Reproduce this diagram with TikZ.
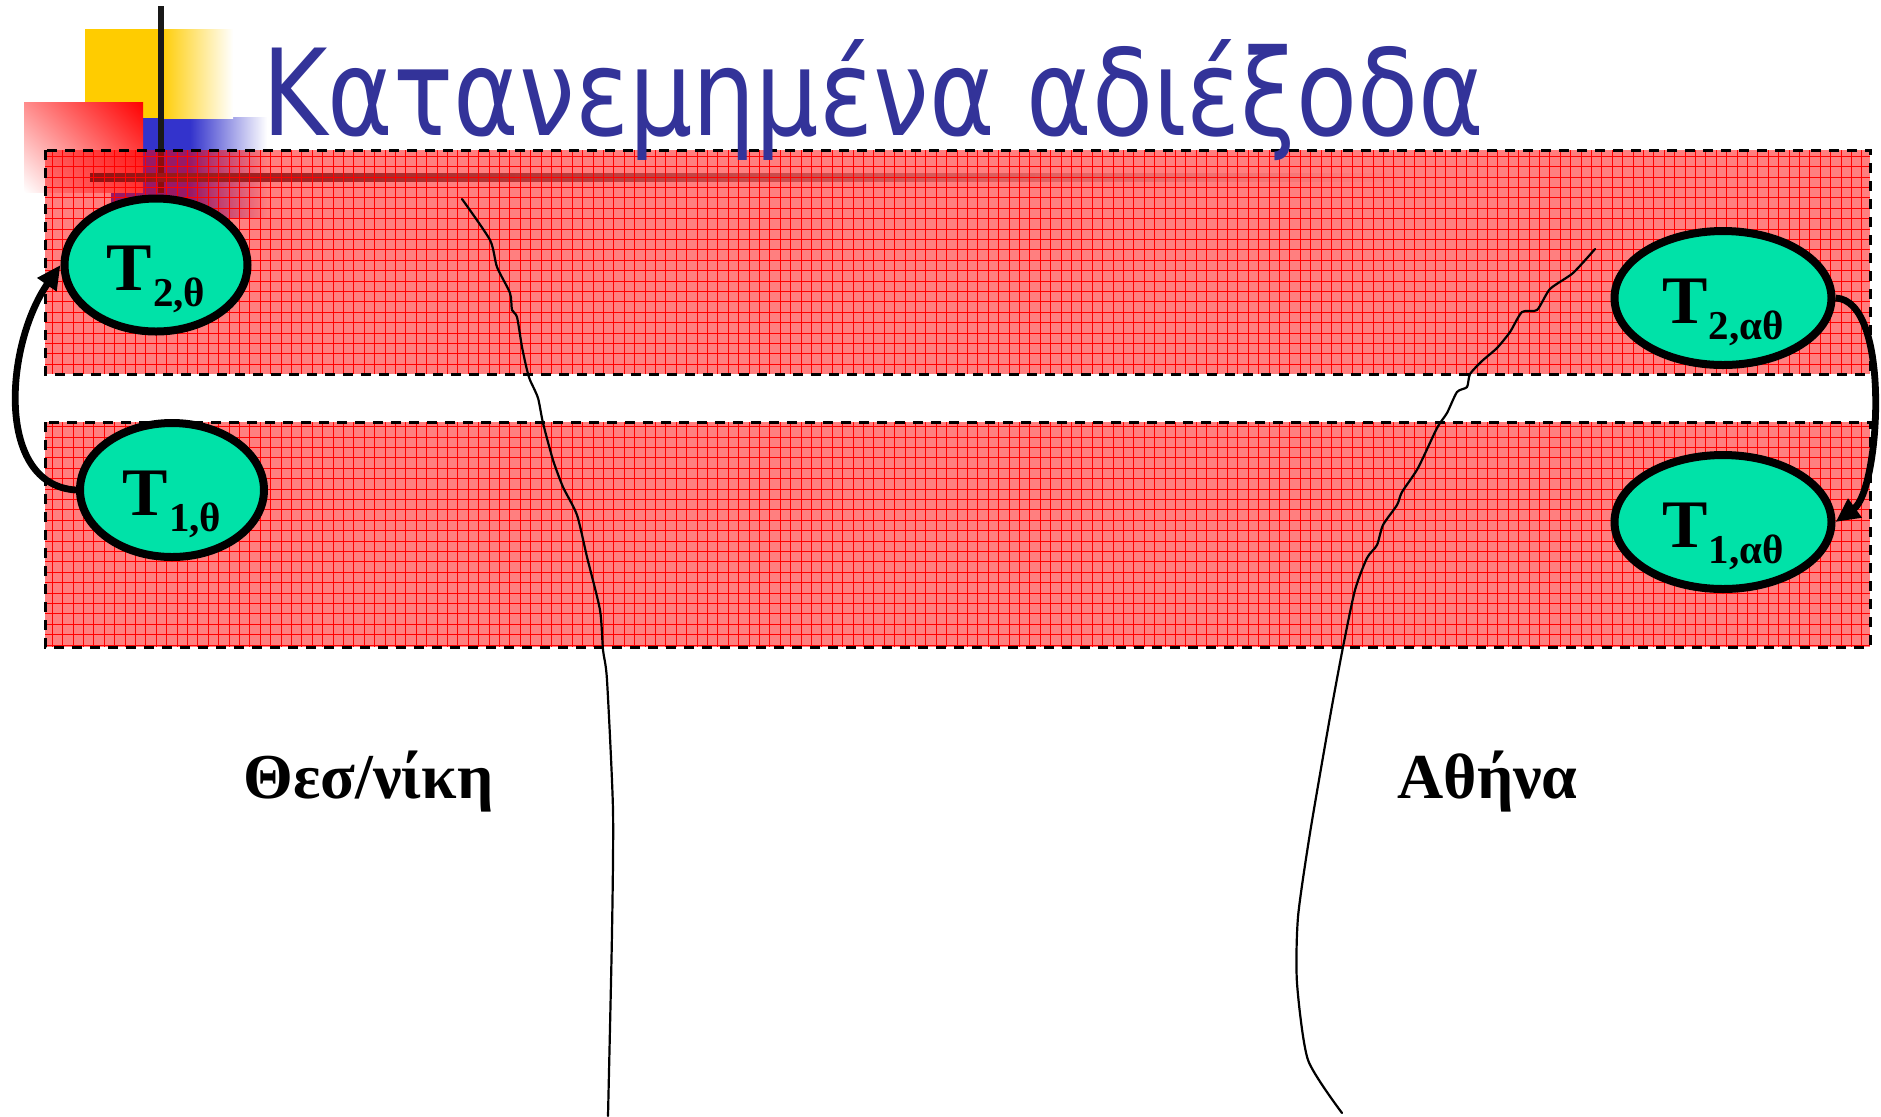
\documentclass[tikz,border=0pt]{standalone}
\usepackage{fontspec}
\usepackage{graphicx}
\usetikzlibrary{shapes.geometric,arrows.meta,shadings}
\newfontfamily\titlefont{DejaVu Sans}
\newfontfamily\timesfont{Liberation Serif}
\definecolor{titleblue}{RGB}{51,51,153}
\definecolor{nodegreen}{RGB}{0,226,168}
\definecolor{decoyellow}{RGB}{255,204,0}
\definecolor{decoblue}{RGB}{51,51,204}
\newcommand{\Tlabel}[1]{{\timesfont\bfseries\fontsize{34pt}{38pt}\selectfont T\kern0.5pt\raisebox{-8pt}{\fontsize{20.5pt}{23pt}\selectfont #1}}}

\begin{document}
\begin{tikzpicture}[x=0.5pt,y=0.5pt,
  band/.style={fill=red, fill opacity=0.5, draw=none},
  bandborder/.style={draw=black, line width=1.5pt, dash pattern=on 5pt off 4pt},
  gridline/.style={red, line width=0.28pt},
  proc/.style={ellipse, draw=black, line width=4pt, fill=nodegreen, inner sep=0pt,
    minimum width=91.5pt, minimum height=66.5pt, text height=25pt, text depth=0pt},
  procwide/.style={proc, minimum width=108.5pt, minimum height=67pt},
  transfer/.style={line width=3.4pt, -{Triangle[length=12pt,width=11pt]}},
  frontier/.style={line width=1.1pt, line join=round, line cap=round},
  city/.style={font=\timesfont\bfseries\fontsize{32pt}{38pt}\selectfont, anchor=base west, inner sep=0pt}
]
\useasboundingbox (0,0) rectangle (1881,-1116);
\fill[white] (0,0) rectangle (1881,-1116);

% template decoration
\fill[decoblue] (111,-117) rectangle (190,-217);
\shade[left color=decoblue, right color=white] (190,-117) rectangle (267,-217);
\fill[decoyellow] (85,-29) rectangle (160,-118);
\shade[left color=decoyellow, right color=white] (160,-29) rectangle (233,-118);
\shade[upper right=red, upper left=red!45, lower left=white, lower right=red!60] (24,-102) rectangle (143,-192);
\draw[black!90, line width=3pt] (161,-6) -- (161,-193);
\shade[left color=black!85, right color=white] (90,-173) rectangle (1400,-181);

% bands
\foreach \t/\b in {150/374, 422/647} {
  \fill[band] (45,-\t) rectangle (1870,-\b);
  \begin{scope}
    \clip (45,-\t) rectangle (1870,-\b);
    \draw[gridline, step=5.2pt] (45,-\t) grid (1870,-\b);
  \end{scope}
  \draw[bandborder] (45,-\t) rectangle (1870,-\b);
}

% frontier curves
\draw[frontier] plot[smooth, tension=0.4] coordinates {(462,-199) (490,-240) (497,-267) (510,-293) (512,-310) (517,-317) (522,-347) (527,-370) (530,-380) (538,-398) (543,-423) (553,-460) (563,-487) (577,-515) (587,-557) (600,-610) (603,-650) (607,-680) (613,-810) (612,-933) (608,-1116)};
\draw[frontier] plot[smooth, tension=0.4] coordinates {(1595,-249) (1573,-273) (1550,-289) (1537,-310) (1522,-312) (1510,-332) (1497,-348) (1482,-361) (1470,-374) (1467,-387) (1457,-392) (1447,-413) (1437,-428) (1418,-468) (1402,-492) (1397,-505) (1383,-525) (1377,-545) (1367,-558) (1355,-590) (1343,-647) (1330,-717) (1310,-833) (1298,-917) (1297,-983) (1308,-1060) (1342,-1113)};

% processes
\node[proc] (t2th) at (156,-265) {\Tlabel{2,θ}};
\node[proc, minimum width=92pt, minimum height=67pt] (t1th) at (172,-490) {\Tlabel{1,θ}};
\node[procwide] (t2ath) at (1723,-298) {\Tlabel{2,αθ}};
\node[procwide] (t1ath) at (1723,-522) {\Tlabel{1,αθ}};

\draw[transfer] (t1th.west) .. controls (-5,-485) and (5,-345) .. (t2th.west);
\draw[transfer] (t2ath.east) .. controls (1892,-300) and (1880,-490) .. (t1ath.east);

% texts
\node[anchor=base west, inner sep=0pt, text=titleblue, font=\titlefont\fontsize{60pt}{70pt}\selectfont] (title) at (262,-135) {\resizebox{611pt}{\height}{Κατανεμημένα αδιέξοδα}};
\node[city] (thess) at (243,-798) {Θεσ/νίκη};
\node[city] (athens) at (1397,-798) {Αθήνα};
\end{tikzpicture}
\end{document}
